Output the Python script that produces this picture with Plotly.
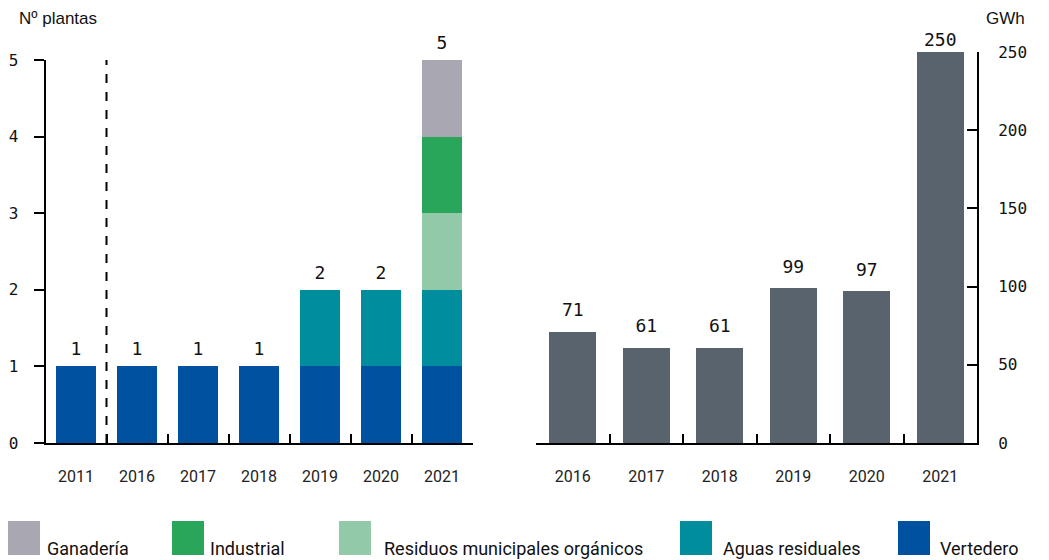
import plotly.graph_objects as go

# --- datos ---
YEARS_PLANTS = ["2011", "2016", "2017", "2018", "2019", "2020", "2021"]
SERIES_NAMES = ["Vertedero", "Aguas residuales", "Residuos municipales orgánicos", "Industrial", "Ganadería"]
VERTEDERO = [1, 1, 1, 1, 1, 1, 1]
AGUAS = [0, 0, 0, 0, 1, 1, 1]
RESIDUOS = [0, 0, 0, 0, 0, 0, 1]
INDUSTRIAL = [0, 0, 0, 0, 0, 0, 1]
GANADERIA = [0, 0, 0, 0, 0, 0, 1]

YEARS_GWH = ["2016", "2017", "2018", "2019", "2020", "2021"]
GWH = [71, 61, 61, 99, 97, 250]

COLORS = {
    "Vertedero": "#0052A0",
    "Aguas residuales": "#008E9E",
    "Residuos municipales orgánicos": "#92C9A8",
    "Industrial": "#2AA65A",
    "Ganadería": "#A9A8B2",
}
GWH_COLOR = "#58636E"

MONO = "DejaVu Sans Mono"
SANS = "Roboto"

W, H = 1049, 560
PAGE_OFFSET = 8  # margen del <body> de la página

fig = go.Figure()

stack = [VERTEDERO, AGUAS, RESIDUOS, INDUSTRIAL, GANADERIA]
for name, vals in zip(SERIES_NAMES, stack):
    fig.add_trace(go.Bar(
        x=YEARS_PLANTS, y=vals, name=name, marker_color=COLORS[name],
        marker_line_width=0, width=0.66, xaxis="x", yaxis="y", showlegend=False,
    ))

# totales encima de cada barra (marcador invisible para separar el texto)
totals = [sum(v) for v in zip(*stack)]
fig.add_trace(go.Scatter(
    x=YEARS_PLANTS, y=totals, mode="markers+text", text=[str(t) for t in totals],
    marker=dict(size=9, opacity=0), hoverinfo="skip",
    textposition="top center", textfont=dict(family=MONO, size=18, color="#111"),
    xaxis="x", yaxis="y", showlegend=False, cliponaxis=False,
))

fig.add_trace(go.Bar(
    x=YEARS_GWH, y=GWH, marker_color=GWH_COLOR, marker_line_width=0, width=0.64,
    xaxis="x2", yaxis="y2", showlegend=False,
))
# etiquetas GWh; la última más pegada a la barra, como en el original
fig.add_trace(go.Scatter(
    x=YEARS_GWH, y=GWH, mode="markers+text", text=[str(v) for v in GWH],
    marker=dict(size=[16, 16, 16, 16, 16, 1], opacity=0), hoverinfo="skip",
    textposition="top center", textfont=dict(family=MONO, size=18, color="#111"),
    xaxis="x2", yaxis="y2", showlegend=False, cliponaxis=False,
))

def px_x(p):
    return (p - PAGE_OFFSET) / W

def px_y(p):
    return 1 - (p - PAGE_OFFSET) / H

axis_common = dict(showline=True, linecolor="black", linewidth=2, showgrid=False,
                   zeroline=False, automargin=False)

fig.update_layout(
    width=W, height=H,
    margin=dict(l=0, r=0, t=0, b=0, autoexpand=False),
    plot_bgcolor="white", paper_bgcolor="white",
    barmode="stack",
    xaxis=dict(domain=[px_x(45.5), px_x(472.5)], anchor="y", type="category",
               ticks="inside", tickson="boundaries", ticklen=9, tickwidth=2, tickcolor="black",
               ticklabelstandoff=18, tickfont=dict(family=SANS, size=16, color="#222"),
               **axis_common),
    yaxis=dict(domain=[px_y(443), px_y(60)], anchor="x", range=[0, 5],
               tickvals=[0, 1, 2, 3, 4, 5], ticks="outside", ticklen=10, tickwidth=2,
               tickcolor="black", tickfont=dict(family=MONO, size=16, color="#111"),
               ticklabelstandoff=12, **axis_common),
    xaxis2=dict(domain=[px_x(536), px_x(977)], anchor="y2", type="category",
                ticks="inside", tickson="boundaries", ticklen=9, tickwidth=2, tickcolor="black",
                ticklabelstandoff=18, tickfont=dict(family=SANS, size=16, color="#222"),
                **axis_common),
    yaxis2=dict(domain=[px_y(443), px_y(52)], anchor="x2", side="right", range=[0, 250],
                tickvals=[0, 50, 100, 150, 200, 250], ticks="inside", ticklen=10, tickwidth=2,
                tickcolor="black", tickfont=dict(family=MONO, size=16, color="#111"),
                ticklabelstandoff=16, **axis_common),
)

# línea discontinua entre 2011 y 2016
fig.add_shape(type="line", xref="x", yref="y", x0=0.5, x1=0.5, y0=0, y1=5,
              line=dict(color="black", width=2, dash="dash"))

# títulos de eje
fig.add_annotation(text="Nº plantas", xref="paper", yref="paper", x=px_x(17), y=px_y(18),
                   xanchor="left", yanchor="middle", showarrow=False,
                   font=dict(family="Liberation Sans", size=17, color="#111"))
fig.add_annotation(text="GWh", xref="paper", yref="paper", x=px_x(984), y=px_y(18),
                   xanchor="left", yanchor="middle", showarrow=False,
                   font=dict(family="Liberation Sans", size=17, color="#111"))

# leyenda manual con cuadros grandes
legend_order = ["Ganadería", "Industrial", "Residuos municipales orgánicos", "Aguas residuales", "Vertedero"]
legend_sq_x = [8, 172, 339, 680, 898]
legend_txt_x = [45, 208, 382, 721, 938]
for name, sx, tx in zip(legend_order, legend_sq_x, legend_txt_x):
    fig.add_shape(type="rect", xref="paper", yref="paper",
                  x0=px_x(sx), x1=px_x(sx + 32), y0=px_y(555), y1=px_y(521),
                  fillcolor=COLORS[name], line_width=0)
    fig.add_annotation(text=name, xref="paper", yref="paper", x=px_x(tx), y=px_y(548),
                       xanchor="left", yanchor="middle", showarrow=False,
                       font=dict(family=SANS, size=18, color="#111"))

fig.write_html("out.html")
